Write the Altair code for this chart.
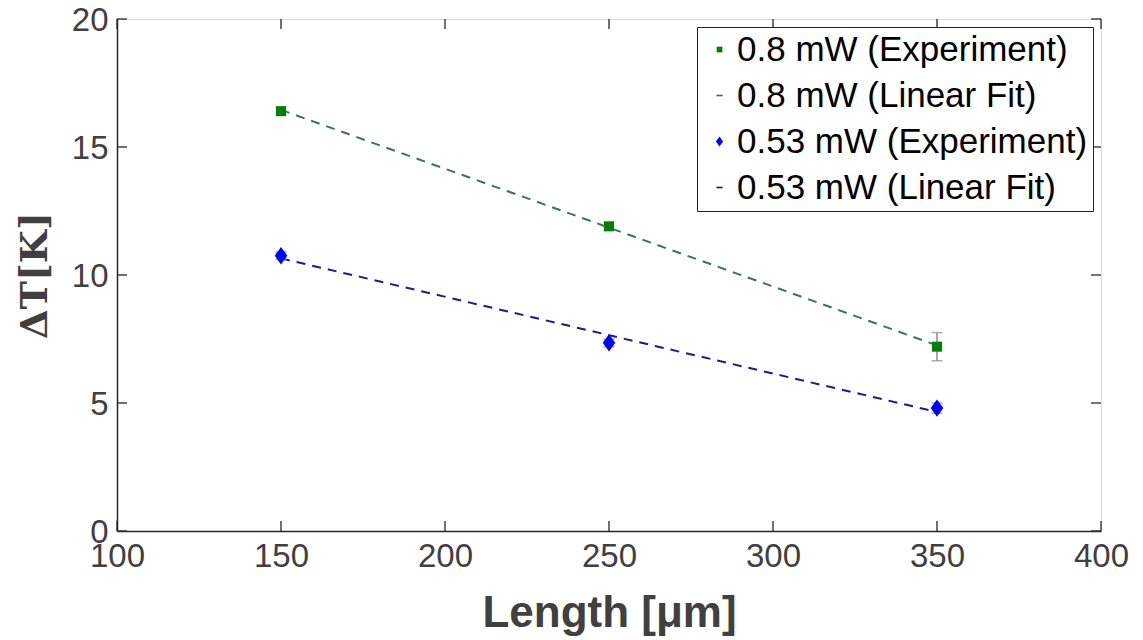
import altair as alt
import pandas as pd

# ---- data ----
lengths = [150, 250, 350]
dT_08 = [16.4, 11.9, 7.2]
err_08 = [0.15, 0.15, 0.55]
dT_053 = [10.75, 7.35, 4.8]
err_053 = [0.15, 0.15, 0.2]

fit_x = [150, 350]
fit_08 = [16.45, 7.25]
fit_053 = [10.65, 4.65]

x_ticks = [100, 150, 200, 250, 300, 350, 400]
y_ticks = [0, 5, 10, 15, 20]

series = ["0.8 mW (Experiment)", "0.8 mW (Linear Fit)",
          "0.53 mW (Experiment)", "0.53 mW (Linear Fit)"]
colors = ["#008000", "#3f6f66", "#0000ff", "#1c1c8c"]
square = "M-1.35,-1.35H1.35V1.35H-1.35Z"
diamond = "M0,-2.35L1.7,0L0,2.35L-1.7,0Z"
dash = "M-1.45,-0.4H1.45V0.4H-1.45Z"
shapes = [square, dash, diamond, dash]

W, H = 984, 512

pts = pd.DataFrame({
    "series": [series[0]] * 3 + [series[2]] * 3,
    "L": lengths + lengths,
    "dT": dT_08 + dT_053,
    "lo": [v - e for v, e in zip(dT_08, err_08)] + [v - e for v, e in zip(dT_053, err_053)],
    "hi": [v + e for v, e in zip(dT_08, err_08)] + [v + e for v, e in zip(dT_053, err_053)],
})
fit_a = pd.DataFrame({"L": fit_x, "dT": fit_08})
fit_b = pd.DataFrame({"L": fit_x, "dT": fit_053})
xt = pd.DataFrame({"t": x_ticks})
yt = pd.DataFrame({"t": y_ticks})

xs = alt.Scale(domain=[100, 400], nice=False, zero=False)
ys = alt.Scale(domain=[0, 20], nice=False, zero=False)
cs = alt.Scale(domain=series, range=colors)
ss = alt.Scale(domain=series, range=shapes)

label_font = "Liberation Sans"
axis_col = "#262626"
text_col = "#404040"

x_enc = alt.X("L:Q", scale=xs, title="Length [μm]",
              axis=alt.Axis(values=x_ticks, ticks=False, labelPadding=9, labelFlush=False,
                            labelFontSize=33, labelFont=label_font, labelColor=text_col,
                            titleFont=label_font, titleFontSize=44, titleFontWeight="bold",
                            titleColor=text_col, titlePadding=18, grid=False,
                            domainColor=axis_col, domainWidth=1.5))
y_enc = alt.Y("dT:Q", scale=ys, title="ΔT[K]",
              axis=alt.Axis(values=y_ticks, ticks=False, labelPadding=9, labelFlush=False,
                            labelOffset=1,
                            labelFontSize=33, labelFont=label_font, labelColor=text_col,
                            titleFont="DejaVu Serif", titleFontSize=38,
                            titleFontWeight="bold", titleColor=text_col,
                            titlePadding=17, grid=False,
                            domainColor=axis_col, domainWidth=1.5))

line_a = alt.Chart(fit_a).mark_line(strokeDash=[9, 7], strokeWidth=2, color=colors[1]).encode(
    x=x_enc, y=y_enc)
line_b = alt.Chart(fit_b).mark_line(strokeDash=[9, 7], strokeWidth=2, color=colors[3]).encode(
    x=alt.X("L:Q", scale=xs), y=alt.Y("dT:Q", scale=ys))

err_rule = alt.Chart(pts).mark_rule(color="#8a8a8a", strokeWidth=1.5).encode(
    x=alt.X("L:Q", scale=xs), y=alt.Y("lo:Q", scale=ys), y2="hi:Q")
err_lo = alt.Chart(pts).mark_tick(color="#8a8a8a", orient="horizontal", size=11,
                                  thickness=1.5).encode(
    x=alt.X("L:Q", scale=xs), y=alt.Y("lo:Q", scale=ys))
err_hi = alt.Chart(pts).mark_tick(color="#8a8a8a", orient="horizontal", size=11,
                                  thickness=1.5).encode(
    x=alt.X("L:Q", scale=xs), y=alt.Y("hi:Q", scale=ys))

legend = alt.Legend(title=None, orient="top-right", offset=8,
                    labelFontSize=35, labelFont=label_font, labelColor="#000000",
                    symbolSize=18, symbolStrokeWidth=0, labelOffset=0,
                    rowPadding=10, padding=5, strokeColor="#262626",
                    fillColor="#ffffff", labelLimit=600)

points = alt.Chart(pts).mark_point(filled=True, size=55, opacity=1).encode(
    x=alt.X("L:Q", scale=xs), y=alt.Y("dT:Q", scale=ys),
    color=alt.Color("series:N", scale=cs, legend=legend),
    shape=alt.Shape("series:N", scale=ss, legend=legend),
)

tick_col = axis_col
bt = alt.Chart(xt).mark_rule(color=tick_col, strokeWidth=1.3).encode(
    x=alt.X("t:Q", scale=xs), y=alt.value(H), y2=alt.value(H - 10))
tt = alt.Chart(xt).mark_rule(color=tick_col, strokeWidth=1.3).encode(
    x=alt.X("t:Q", scale=xs), y=alt.value(0), y2=alt.value(10))
lt = alt.Chart(yt).mark_rule(color=tick_col, strokeWidth=1.3).encode(
    y=alt.Y("t:Q", scale=ys), x=alt.value(0), x2=alt.value(10))
rt = alt.Chart(yt).mark_rule(color=tick_col, strokeWidth=1.3).encode(
    y=alt.Y("t:Q", scale=ys), x=alt.value(W), x2=alt.value(W - 10))

chart = alt.layer(line_a, line_b, bt, tt, lt, rt, err_rule, err_lo, err_hi, points).properties(
    width=W, height=H,
    autosize=alt.AutoSizeParams(type="none"),
    padding={"left": 109, "top": 11, "right": 30, "bottom": 107},
).configure_view(stroke=axis_col, strokeWidth=1.5).configure(background="#ffffff")

chart.save("out.html", embed_options={"renderer": "svg", "actions": False})
